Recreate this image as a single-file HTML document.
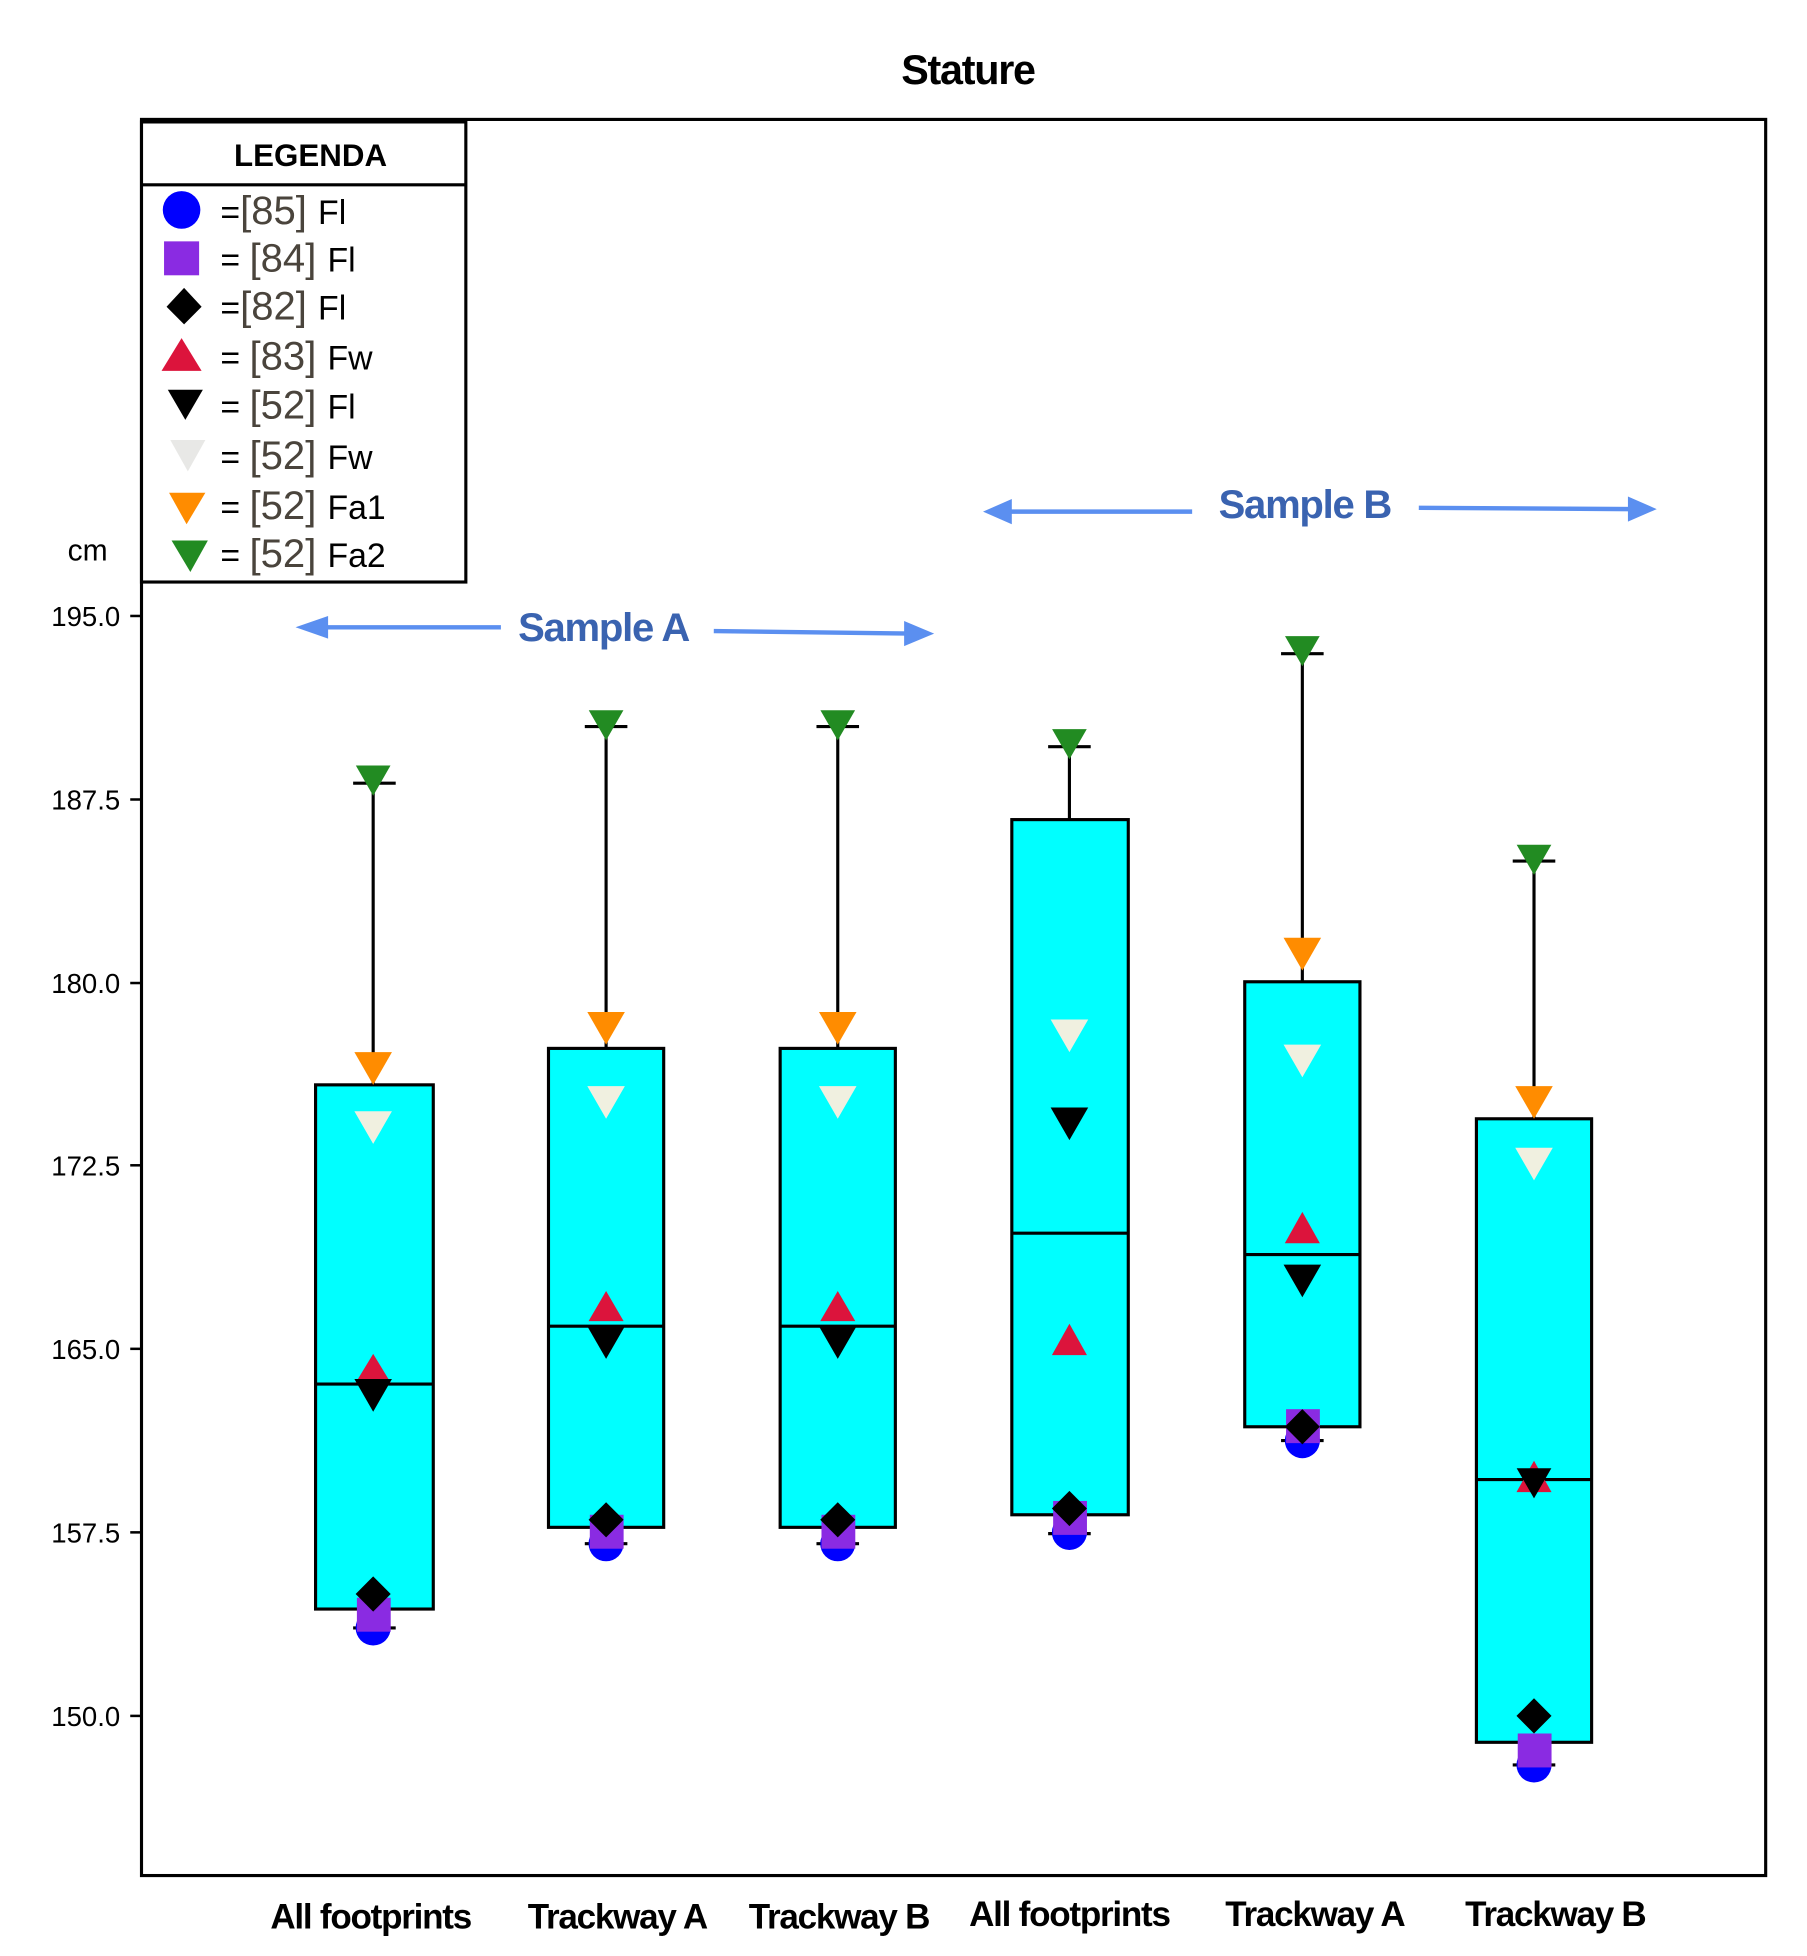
<!DOCTYPE html>
<html><head><style>html,body{margin:0;padding:0;background:#fff}svg{display:block}</style></head>
<body>
<svg width="1807" height="1956" viewBox="0 0 1443 1556" preserveAspectRatio="none" xmlns="http://www.w3.org/2000/svg" font-family="Liberation Sans, sans-serif">
<defs>
<symbol id="dn" viewBox="-15 -13 30 26" overflow="visible"><polygon points="-15,-13 15,-13 0,13"/></symbol>
</defs>
<text x="773" y="67" font-size="33" font-weight="bold" text-anchor="middle" letter-spacing="-1">Stature</text>
<rect x="113" y="95" width="1297" height="1397" fill="none" stroke="#000" stroke-width="2.5"/>
<text x="70" y="446" font-size="24" text-anchor="middle">cm</text>
<g font-size="22" text-anchor="end">
<text x="96" y="498">195.0</text><line x1="104" y1="490" x2="113" y2="490" stroke="#000" stroke-width="2"/>
<text x="96" y="644">187.5</text><line x1="104" y1="636" x2="113" y2="636" stroke="#000" stroke-width="2"/>
<text x="96" y="790">180.0</text><line x1="104" y1="782" x2="113" y2="782" stroke="#000" stroke-width="2"/>
<text x="96" y="935">172.5</text><line x1="104" y1="927" x2="113" y2="927" stroke="#000" stroke-width="2"/>
<text x="96" y="1081">165.0</text><line x1="104" y1="1073" x2="113" y2="1073" stroke="#000" stroke-width="2"/>
<text x="96" y="1227">157.5</text><line x1="104" y1="1219" x2="113" y2="1219" stroke="#000" stroke-width="2"/>
<text x="96" y="1373">150.0</text><line x1="104" y1="1365" x2="113" y2="1365" stroke="#000" stroke-width="2"/>
</g>
<!-- legend -->
<rect x="113" y="97" width="259" height="366" fill="#fff" stroke="#000" stroke-width="2.5"/>
<line x1="113" y1="147" x2="372" y2="147" stroke="#000" stroke-width="2.5"/>
<text x="248" y="132" font-size="25" font-weight="bold" text-anchor="middle">LEGENDA</text>
<circle cx="145" cy="167" r="15" fill="#0000ff"/>
<rect x="131" y="192" width="28" height="27" fill="#8a2be2"/>
<polygon points="147,229 161,244 147,258 133,244" fill="#000"/>
<polygon points="145,269 161,295 129,295" fill="#dc143c"/>
<polygon points="134,310 162,310 148,334" fill="#000"/>
<polygon points="136,350 164,350 150,375" fill="#e8e8e6"/>
<polygon points="135,392 164,392 149,417" fill="#ff8c00"/>
<polygon points="137,430 166,430 152,455" fill="#228b22"/>
<g font-size="32" fill="#4a443c">
<text x="176" y="178"><tspan fill="#000" font-size="27">=</tspan>[85] <tspan fill="#000" font-size="27">Fl</tspan></text>
<text x="176" y="216"><tspan fill="#000" font-size="27">= </tspan>[84] <tspan fill="#000" font-size="27">Fl</tspan></text>
<text x="176" y="254"><tspan fill="#000" font-size="27">=</tspan>[82] <tspan fill="#000" font-size="27">Fl</tspan></text>
<text x="176" y="294"><tspan fill="#000" font-size="27">= </tspan>[83] <tspan fill="#000" font-size="27">Fw</tspan></text>
<text x="176" y="333"><tspan fill="#000" font-size="27">= </tspan>[52] <tspan fill="#000" font-size="27">Fl</tspan></text>
<text x="176" y="373"><tspan fill="#000" font-size="27">= </tspan>[52] <tspan fill="#000" font-size="27">Fw</tspan></text>
<text x="176" y="413"><tspan fill="#000" font-size="27">= </tspan>[52] <tspan fill="#000" font-size="27">Fa1</tspan></text>
<text x="176" y="451"><tspan fill="#000" font-size="27">= </tspan>[52] <tspan fill="#000" font-size="27">Fa2</tspan></text>
</g>
<!-- sample arrows -->
<g stroke="#5b8ff0" stroke-width="3.5" fill="#5b8ff0">
<line x1="250" y1="499" x2="400" y2="499"/><polygon points="236,499 262,490 262,508" stroke="none"/>
<line x1="570" y1="502" x2="728" y2="504"/><polygon points="746,504 722,494 722,514" stroke="none"/>
<line x1="800" y1="407" x2="952" y2="407"/><polygon points="785,407 808,397 808,417" stroke="none"/>
<line x1="1133" y1="404" x2="1305" y2="405"/><polygon points="1323,405 1300,395 1300,415" stroke="none"/>
</g>
<g font-size="32" font-weight="bold" fill="#3a63b0" text-anchor="middle" letter-spacing="-1">
<text x="482" y="510">Sample A</text>
<text x="1042" y="412">Sample B</text>
</g>
<!-- boxes -->
<g stroke="#000" stroke-width="2.5">
<line x1="298" y1="623" x2="298" y2="863"/><line x1="282" y1="623" x2="316" y2="623"/><line x1="282" y1="1295" x2="316" y2="1295"/>
<rect x="252" y="863" width="94" height="417" fill="#00ffff"/><line x1="252" y1="1101" x2="346" y2="1101"/>
<line x1="484" y1="578" x2="484" y2="834"/><line x1="467" y1="578" x2="501" y2="578"/><line x1="467" y1="1228" x2="501" y2="1228"/>
<rect x="438" y="834" width="92" height="381" fill="#00ffff"/><line x1="438" y1="1055" x2="530" y2="1055"/>
<line x1="669" y1="578" x2="669" y2="834"/><line x1="652" y1="578" x2="686" y2="578"/><line x1="652" y1="1228" x2="686" y2="1228"/>
<rect x="623" y="834" width="92" height="381" fill="#00ffff"/><line x1="623" y1="1055" x2="715" y2="1055"/>
<line x1="854" y1="594" x2="854" y2="652"/><line x1="837" y1="594" x2="871" y2="594"/><line x1="837" y1="1220" x2="871" y2="1220"/>
<rect x="808" y="652" width="93" height="553" fill="#00ffff"/><line x1="808" y1="981" x2="901" y2="981"/>
<line x1="1040" y1="520" x2="1040" y2="781"/><line x1="1023" y1="520" x2="1057" y2="520"/><line x1="1023" y1="1146" x2="1057" y2="1146"/>
<rect x="994" y="781" width="92" height="354" fill="#00ffff"/><line x1="994" y1="998" x2="1086" y2="998"/>
<line x1="1225" y1="685" x2="1225" y2="890"/><line x1="1208" y1="685" x2="1242" y2="685"/><line x1="1208" y1="1404" x2="1242" y2="1404"/>
<rect x="1179" y="890" width="92" height="496" fill="#00ffff"/><line x1="1179" y1="1177" x2="1271" y2="1177"/>
</g>
<!-- markers -->
<g>
<circle cx="298" cy="1295" r="14" fill="#0000ff"/><rect x="285" y="1271" width="27" height="27" fill="#8a2be2"/>
<polygon points="298,1254 312,1268 298,1282 284,1268" fill="#000"/>
<polygon points="298,1077 312,1100 284,1100" fill="#dc143c"/>
<use href="#dn" x="283" y="1097" width="30" height="26" fill="#000"/>
<use href="#dn" x="283" y="884" width="30" height="26" fill="#f0f0e0"/>
<use href="#dn" x="283" y="837" width="30" height="26" fill="#ff8c00"/>
<use href="#dn" x="283" y="609" width="30" height="24" fill="#228b22"/>
<circle cx="484" cy="1228" r="14" fill="#0000ff"/><rect x="471" y="1205" width="27" height="27" fill="#8a2be2"/>
<polygon points="484,1195 498,1209 484,1223 470,1209" fill="#000"/>
<polygon points="484,1027 498,1051 470,1051" fill="#dc143c"/>
<use href="#dn" x="469" y="1055" width="30" height="26" fill="#000"/>
<use href="#dn" x="469" y="864" width="30" height="26" fill="#f0f0e0"/>
<use href="#dn" x="469" y="805" width="30" height="26" fill="#ff8c00"/>
<use href="#dn" x="469" y="565" width="30" height="24" fill="#228b22"/>
<circle cx="669" cy="1228" r="14" fill="#0000ff"/><rect x="656" y="1205" width="27" height="27" fill="#8a2be2"/>
<polygon points="669,1195 683,1209 669,1223 655,1209" fill="#000"/>
<polygon points="669,1027 683,1051 655,1051" fill="#dc143c"/>
<use href="#dn" x="654" y="1055" width="30" height="26" fill="#000"/>
<use href="#dn" x="654" y="864" width="30" height="26" fill="#f0f0e0"/>
<use href="#dn" x="654" y="805" width="30" height="26" fill="#ff8c00"/>
<use href="#dn" x="654" y="565" width="30" height="24" fill="#228b22"/>
<circle cx="854" cy="1219" r="14" fill="#0000ff"/><rect x="841" y="1194" width="27" height="27" fill="#8a2be2"/>
<polygon points="854,1186 868,1200 854,1214 840,1200" fill="#000"/>
<polygon points="854,1053 868,1078 840,1078" fill="#dc143c"/>
<use href="#dn" x="839" y="881" width="30" height="26" fill="#000"/>
<use href="#dn" x="839" y="811" width="30" height="26" fill="#f0f0e0"/>
<use href="#dn" x="839" y="580" width="30" height="24" fill="#228b22"/>
<circle cx="1040" cy="1146" r="14" fill="#0000ff"/><rect x="1027" y="1121" width="27" height="27" fill="#8a2be2"/>
<polygon points="1040,1121 1054,1135 1040,1149 1026,1135" fill="#000"/>
<polygon points="1040,964 1054,989 1026,989" fill="#dc143c"/>
<use href="#dn" x="1025" y="1006" width="30" height="26" fill="#000"/>
<use href="#dn" x="1025" y="831" width="30" height="26" fill="#f0f0e0"/>
<use href="#dn" x="1025" y="746" width="30" height="26" fill="#ff8c00"/>
<use href="#dn" x="1025" y="506" width="30" height="24" fill="#228b22"/>
<circle cx="1225" cy="1404" r="14" fill="#0000ff"/><rect x="1212" y="1379" width="27" height="27" fill="#8a2be2"/>
<polygon points="1225,1351 1239,1365 1225,1379 1211,1365" fill="#000"/>
<polygon points="1225,1162 1239,1187 1211,1187" fill="#dc143c"/>
<use href="#dn" x="1211" y="1168" width="28" height="24" fill="#000"/>
<use href="#dn" x="1210" y="913" width="30" height="26" fill="#f0f0e0"/>
<use href="#dn" x="1210" y="864" width="30" height="26" fill="#ff8c00"/>
<use href="#dn" x="1210" y="672" width="30" height="24" fill="#228b22"/>
</g>
<g font-size="28" font-weight="bold" text-anchor="middle" letter-spacing="-1">
<text x="296" y="1534">All footprints</text>
<text x="493" y="1534">Trackway A</text>
<text x="670" y="1534">Trackway B</text>
<text x="854" y="1532">All footprints</text>
<text x="1050" y="1532">Trackway A</text>
<text x="1242" y="1532">Trackway B</text>
</g>
</svg>
</body></html>
